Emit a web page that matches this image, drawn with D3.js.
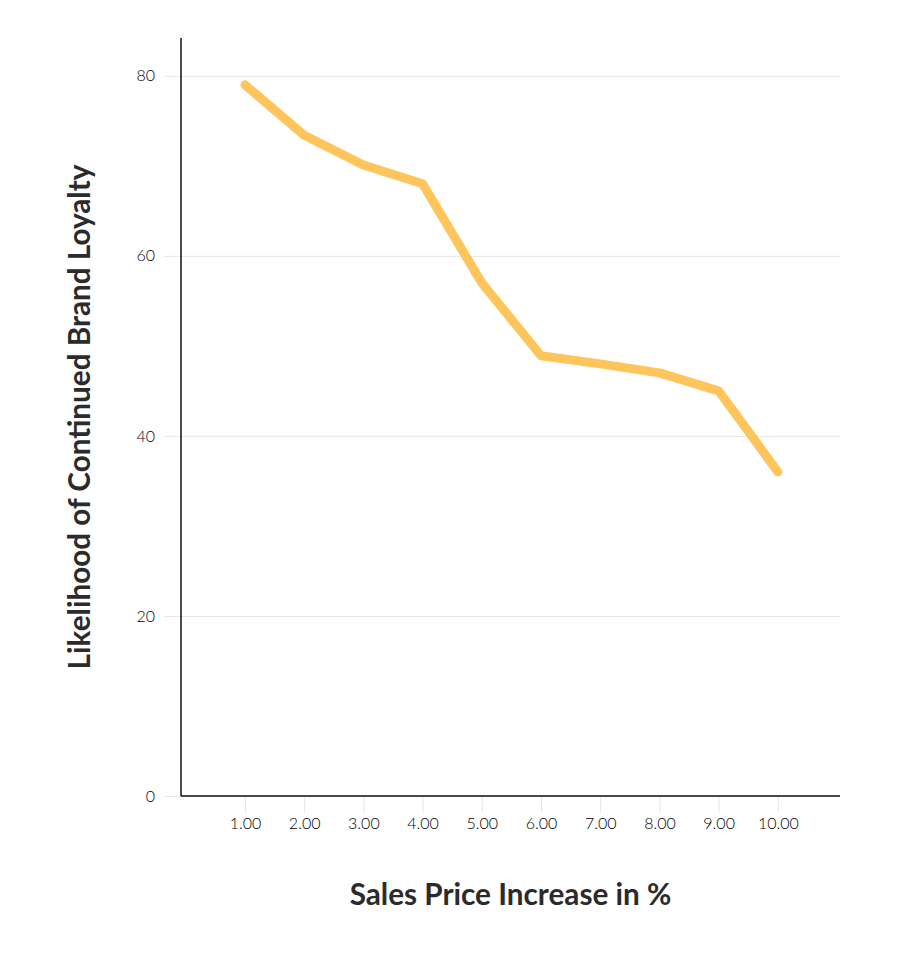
<!DOCTYPE html>
<html lang="en">
<head>
  <meta charset="UTF-8">
  <title>Brand Loyalty</title>
  <script src="https://d3js.org/d3.v7.min.js"></script>
  <style>
    body { margin: 0; background: #fff; }
    text { font-family: Lato, "Open Sans", sans-serif; }
  </style>
</head>
<body>
  <div id="container"></div>
  <script>
    const priceIncrease = [1, 2, 3, 4, 5, 6, 7, 8, 9, 10]
    const loyalty = [79, 73.4, 70.1, 68, 57, 48.9, 48, 47, 45, 36]
    const yTicks = [0, 20, 40, 60, 80]

    const width = 900, height = 962
    const plotLeft = 181, plotRight = 840, plotTop = 38, plotBottom = 796

    const svg = d3.select('#container').append('svg')
      .attr('width', width)
      .attr('height', height)

    const x = d3.scaleLinear().domain([-0.08, 11.05]).range([plotLeft, plotRight])
    const y = d3.scaleLinear().domain([0, 84.2]).range([plotBottom, plotTop])

    // gridlines + y labels
    const yAxis = svg.append('g')
      .attr('transform', `translate(${plotLeft},0)`)
      .call(d3.axisLeft(y).tickValues(yTicks).tickSize(17).tickFormat(d3.format('d')))
    yAxis.select('.domain').remove()
    yAxis.selectAll('.tick line')
      .attr('x1', -17).attr('x2', plotRight - plotLeft)
      .attr('stroke', '#e6e6e6')
    yAxis.selectAll('.tick text')
      .attr('x', -26)
      .attr('font-size', 16)
      .attr('font-weight', 300)
      .attr('fill', '#000')
      .style('font-family', 'Lato, sans-serif')

    // x axis ticks
    const xAxis = svg.append('g')
      .attr('transform', `translate(0,${plotBottom})`)
      .call(d3.axisBottom(x).tickValues(priceIncrease).tickSize(17).tickFormat(d3.format('.2f')))
    xAxis.select('.domain').remove()
    xAxis.selectAll('.tick line').attr('stroke', '#e6e6e6')
    xAxis.selectAll('.tick text')
      .attr('y', 22)
      .attr('font-size', 16)
      .attr('font-weight', 300)
      .attr('fill', '#000')
      .style('font-family', 'Lato, sans-serif')

    // axis lines
    svg.append('line')
      .attr('x1', plotLeft).attr('x2', plotLeft).attr('y1', plotTop).attr('y2', plotBottom)
      .attr('stroke', '#111').attr('stroke-width', 1.5)
    svg.append('line')
      .attr('x1', plotLeft).attr('x2', plotRight).attr('y1', plotBottom).attr('y2', plotBottom)
      .attr('stroke', '#111').attr('stroke-width', 1.5)

    const line = d3.line()
      .x((d, i) => x(priceIncrease[i]))
      .y(d => y(d))

    svg.append('path')
      .datum(loyalty)
      .attr('d', line)
      .attr('fill', 'none')
      .attr('stroke', '#fec55c')
      .attr('stroke-width', 9)
      .attr('stroke-linecap', 'round')
      .attr('stroke-linejoin', 'round')

    svg.append('text')
      .attr('x', (plotLeft + plotRight) / 2)
      .attr('y', 905)
      .attr('text-anchor', 'middle')
      .attr('font-size', 29.7)
      .attr('font-weight', 'bold')
      .attr('fill', '#2b2b2b')
      .text('Sales Price Increase in %')

    svg.append('text')
      .attr('transform', `translate(90,${(plotTop + plotBottom) / 2}) rotate(-90)`)
      .attr('text-anchor', 'middle')
      .attr('font-size', 29.7)
      .attr('font-weight', 'bold')
      .attr('fill', '#2b2b2b')
      .text('Likelihood of Continued Brand Loyalty')
  </script>
</body>
</html>
